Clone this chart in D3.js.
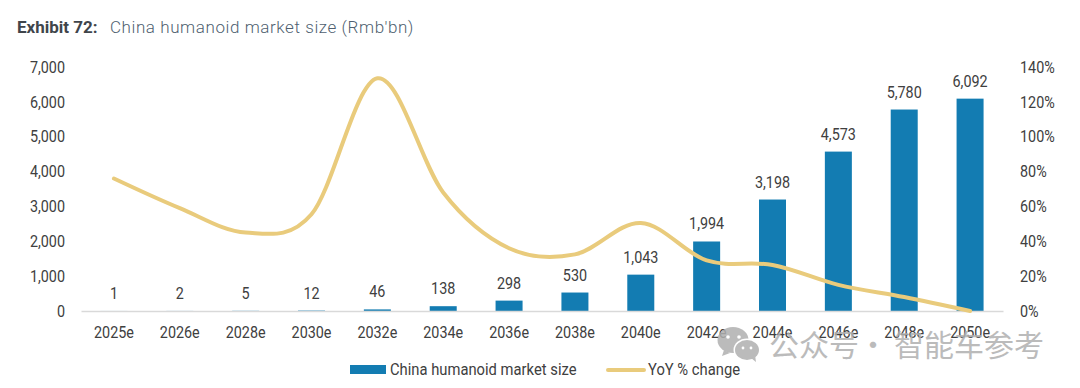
<!DOCTYPE html>
<html>
<head>
<meta charset="utf-8">
<script src="https://cdnjs.cloudflare.com/ajax/libs/d3/7.8.5/d3.min.js"></script>
<style>
  html, body { margin: 0; padding: 0; background: #fff; }
  svg { display: block; }
  text { font-family: Roboto, sans-serif; font-size: 16.5px; fill: #404040; }
  .title { font-size: 17px; }
  .mark { font-family: "Noto Sans CJK SC", sans-serif; font-size: 30px; fill: #b0b0b0; opacity: 0.85; }
</style>
</head>
<body>
<svg id="chart"></svg>
<script>
// values
const years = ['2025e','2026e','2028e','2030e','2032e','2034e','2036e','2038e','2040e','2042e','2044e','2046e','2048e','2050e']
const marketSize = [1,2,5,12,46,138,298,530,1043,1994,3198,4573,5780,6092]
const yoyChange = [76,59,45,55.5,133.5,68,36,32.5,50.5,29,26.4,15,8,0]
const leftTicks = [0,1000,2000,3000,4000,5000,6000,7000]
const rightTicks = [0,20,40,60,80,100,120,140]

const width = 1080, height = 388
const margin = {top: 67, right: 77, bottom: 77, left: 81}

const svg = d3.select('#chart').attr('width', width).attr('height', height)

const xScale = d3.scaleBand().domain(years).range([margin.left, width - margin.right]).paddingInner(0.59).paddingOuter(0.295)
const yLeft = d3.scaleLinear().domain([0, 7000]).range([height - margin.bottom, margin.top])
const yRight = d3.scaleLinear().domain([0, 140]).range([height - margin.bottom, margin.top])
const xCenter = d => xScale(d) + xScale.bandwidth() / 2

// title
const title = svg.append('text').attr('class', 'title').attr('x', 17).attr('y', 33)
title.append('tspan').attr('font-weight', 700).style('fill', '#3f454b').text('Exhibit 72:')
title.append('tspan').attr('x', 110).attr('font-weight', 300).style('fill', '#4f5f70').attr('letter-spacing', 0.58)
  .text("China humanoid market size (Rmb'bn)")

// bars
svg.selectAll('rect.bar').data(years).enter().append('rect')
  .attr('class', 'bar')
  .attr('x', d => xScale(d))
  .attr('y', (d, i) => yLeft(marketSize[i]))
  .attr('width', xScale.bandwidth())
  .attr('height', (d, i) => yLeft(0) - yLeft(marketSize[i]))
  .attr('fill', '#137cb2')

// axes
const xAxis = d3.axisBottom(xScale).tickSize(0).tickPadding(15)
const gx = svg.append('g').attr('transform', `translate(0,${yLeft(0)})`).call(xAxis)
gx.select('.domain').attr('stroke', '#d9d9d9').attr('stroke-width', 1.5)

const leftAxis = d3.axisLeft(yLeft).tickValues(leftTicks).tickFormat(d3.format(',')).tickSize(0).tickPadding(16)
const gl = svg.append('g').attr('transform', `translate(${margin.left},0)`).call(leftAxis)
gl.select('.domain').remove()

const rightAxis = d3.axisRight(yRight).tickValues(rightTicks).tickFormat(d => d + '%').tickSize(0).tickPadding(17)
const gr = svg.append('g').attr('transform', `translate(${width - margin.right},0)`).call(rightAxis)
gr.select('.domain').remove()

svg.selectAll('.tick text').style('font-family', 'Roboto, sans-serif').style('font-size', '16.5px').style('fill', '#404040')

// bar labels
svg.selectAll('text.barlabel').data(years).enter().append('text')
  .attr('class', 'barlabel')
  .attr('text-anchor', 'middle')
  .attr('x', d => xCenter(d))
  .attr('y', (d, i) => yLeft(marketSize[i]) - 12)
  .text((d, i) => d3.format(',')(marketSize[i]))

// yoy line
const line = d3.line()
  .x(d => xCenter(d))
  .y((d, i) => yRight(yoyChange[i]))
  .curve(d3.curveCatmullRom.alpha(0))

svg.append('path').datum(years)
  .attr('d', line)
  .attr('fill', 'none')
  .attr('stroke', '#e9cb7c')
  .attr('stroke-width', 4)
  .attr('stroke-linecap', 'round')

// legend
const legend = svg.append('g')
legend.append('rect').attr('x', 350).attr('y', 365).attr('width', 36).attr('height', 9).attr('fill', '#137cb2')
legend.append('text').attr('class', 'narrow wide').attr('x', 390).attr('y', 375).text('China humanoid market size')
legend.append('line').attr('x1', 608).attr('x2', 644).attr('y1', 370).attr('y2', 370)
  .attr('stroke', '#e9cb7c').attr('stroke-width', 4).attr('stroke-linecap', 'round')
legend.append('text').attr('class', 'narrow wide').attr('x', 648).attr('y', 375).text('YoY % change')

// Roboto Condensed is not installed, so squeeze the regular cut
svg.selectAll('.tick text, text.barlabel, text.narrow').each(function () {
  const squeeze = this.classList.contains('wide') ? 0.895 : 0.87
  d3.select(this).attr('textLength', this.getComputedTextLength() * squeeze).attr('lengthAdjust', 'spacingAndGlyphs')
})

// watermark
const mark = svg.append('g').attr('opacity', 0.85)
mark.append('ellipse').attr('cx', 733).attr('cy', 340).attr('rx', 15.5).attr('ry', 13).attr('fill', '#b0b0b0')
mark.append('path').attr('d', 'M724 350l-2 6 8-3z').attr('fill', '#b0b0b0')
mark.append('ellipse').attr('cx', 747).attr('cy', 350).attr('rx', 13.5).attr('ry', 11.5).attr('fill', '#fff')
mark.append('ellipse').attr('cx', 747).attr('cy', 350).attr('rx', 12).attr('ry', 10).attr('fill', '#b0b0b0')
mark.append('path').attr('d', 'M751 358l5 4-1-7z').attr('fill', '#b0b0b0')
mark.selectAll('circle').data([[728,337,1.8],[739,337,1.8],[743,348,1.4],[751,348,1.4]]).enter().append('circle')
  .attr('cx', d => d[0]).attr('cy', d => d[1]).attr('r', d => d[2]).attr('fill', '#fff')
svg.append('text').attr('class', 'mark').attr('x', 769).attr('y', 356).text('公众号')
svg.append('text').attr('class', 'mark').attr('x', 873).attr('y', 356).attr('text-anchor', 'middle').text('·')
svg.append('text').attr('class', 'mark').attr('x', 894).attr('y', 356).text('智能车参考')
</script>
</body>
</html>
